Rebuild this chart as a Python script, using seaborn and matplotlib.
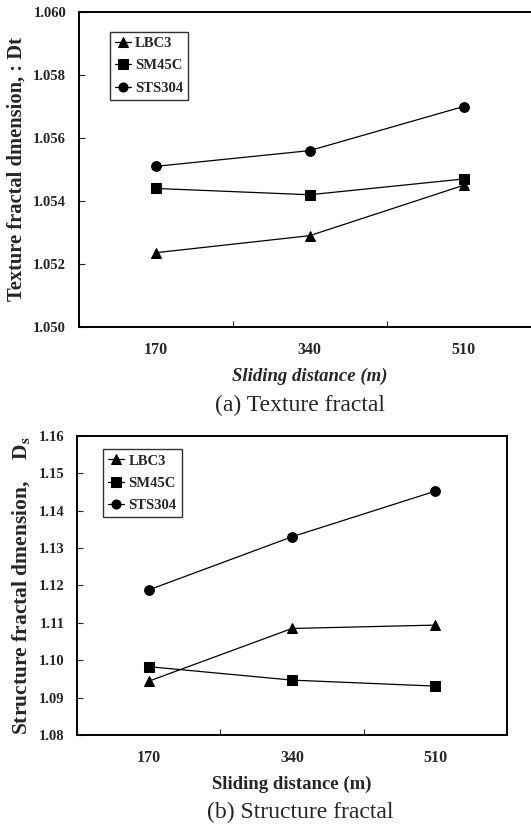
import pandas as pd
import seaborn as sns
import matplotlib.pyplot as plt
from matplotlib.ticker import FixedLocator, NullFormatter

# datos
distances = [170, 340, 510]
materials = ['LBC3', 'SM45C', 'STS304']
texture_lbc3 = [1.05236, 1.0529, 1.0545]
texture_sm45c = [1.0544, 1.0542, 1.0547]
texture_sts304 = [1.0551, 1.0556, 1.0570]
structure_lbc3 = [1.0944, 1.1085, 1.1094]
structure_sm45c = [1.0983, 1.0947, 1.0931]
structure_sts304 = [1.1188, 1.1330, 1.1452]

sns.set_style("ticks")
plt.rcParams['font.family'] = ['Liberation Serif', 'DejaVu Serif']
plt.rcParams['mathtext.fontset'] = 'stix'


def make_df(a, b, c):
    rows = []
    for mat, vals in zip(materials, [a, b, c]):
        for d, v in zip(distances, vals):
            rows.append({'distance': d, 'value': v, 'material': mat})
    return pd.DataFrame(rows)


df_tex = make_df(texture_lbc3, texture_sm45c, texture_sts304)
df_str = make_df(structure_lbc3, structure_sm45c, structure_sts304)

fig = plt.figure(figsize=(5.31, 8.26), dpi=100)
ax1 = fig.add_axes([0.148, 0.604, 0.87, 0.3815])
ax2 = fig.add_axes([0.145, 0.110, 0.810, 0.3625])

mk = {'LBC3': '^', 'SM45C': 's', 'STS304': 'o'}
pal = {m: 'black' for m in materials}


def draw(ax, df, ylim, yticks, yfmt, ylabel, xlabel_style, leg_anchor, ylsize):
    sns.lineplot(data=df, x='distance', y='value', hue='material', style='material',
                 markers=mk, dashes=False, palette=pal, markersize=7, linewidth=0.9,
                 markeredgecolor='black', ax=ax)
    ax.set_xlim(85, 595)
    ax.set_ylim(*ylim)
    ax.xaxis.set_major_locator(FixedLocator([85, 255, 425, 595]))
    ax.xaxis.set_major_formatter(NullFormatter())
    ax.xaxis.set_minor_locator(FixedLocator(distances))
    ax.set_xticklabels([str(d) for d in distances], minor=True)
    ax.tick_params(axis='x', which='major', direction='in', length=4, width=0.8)
    ax.tick_params(axis='x', which='minor', length=0, pad=11, labelsize=11.5)
    ax.set_yticks(yticks)
    ax.set_yticklabels([yfmt.format(t) for t in yticks], fontweight='bold')
    for lab in ax.get_xticklabels(minor=True):
        lab.set_fontweight('bold')
    ax.tick_params(axis='y', direction='in', length=4, width=0.8, labelsize=10.5, pad=9)
    ax.set_xlabel('Sliding distance (m)', fontsize=13.5, fontweight='bold',
                  fontstyle=xlabel_style, labelpad=7)
    ax.set_ylabel(ylabel, fontsize=ylsize, fontweight='bold', labelpad=5)
    for s in ax.spines.values():
        s.set_linewidth(1.4)
        s.set_color('black')
    leg = ax.legend(loc='upper left', bbox_to_anchor=leg_anchor, frameon=True,
                    fancybox=False, edgecolor='black', handlelength=1.1,
                    handletextpad=0.3, borderpad=0.35, labelspacing=0.62,
                    borderaxespad=0, prop={'weight': 'bold', 'size': 10.5})
    leg.get_frame().set_linewidth(1.0)
    for h in leg.legend_handles:
        h.set_markersize(6.5)


draw(ax1, df_tex, (1.050, 1.060), [1.050, 1.052, 1.054, 1.056, 1.058, 1.060],
     '{:.3f}', 'Texture fractal dmension, : Dt', 'italic', (0.067, 0.937), 14.8)
ax1.spines['right'].set_visible(False)

draw(ax2, df_str, (1.08, 1.16), [1.08, 1.09, 1.10, 1.11, 1.12, 1.13, 1.14, 1.15, 1.16],
     '{:.2f}', r'Structure fractal dmension,    D$_\mathbf{s}$', 'normal', (0.06, 0.955), 15.5)

fig.text(0.565, 0.509, '(a) Texture fractal', ha='center', va='center', fontsize=17)
fig.text(0.566, 0.017, '(b) Structure fractal', ha='center', va='center', fontsize=17)

fig.savefig('out.png', dpi=100)
